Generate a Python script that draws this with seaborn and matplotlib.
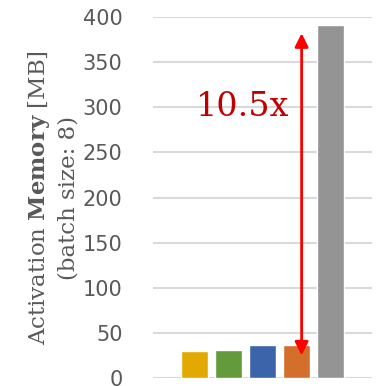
import pandas as pd
import matplotlib.pyplot as plt
import seaborn as sns

# Data
methods = ['m1', 'm2', 'm3', 'm4', 'baseline']
memory_mb = [30, 31, 36.5, 36.5, 391]
colors = ['#E2AA00', '#629A3C', '#3C64AA', '#D46F2B', '#949494']
yticks = [0, 50, 100, 150, 200, 250, 300, 350, 400]

df = pd.DataFrame({'method': methods, 'memory': memory_mb})

sns.set_theme(style='white')
plt.rcParams['mathtext.fontset'] = 'custom'
plt.rcParams['mathtext.rm'] = 'DejaVu Serif'
plt.rcParams['mathtext.bf'] = 'DejaVu Serif:bold'

fig = plt.figure(figsize=(3.83, 3.86), dpi=100)
ax = fig.add_axes([153 / 383, 1 - 378 / 386, 219 / 383, 361 / 386])

sns.barplot(data=df, x='method', y='memory', hue='method', palette=colors,
            width=0.8, legend=False, ax=ax, saturation=1)

ax.set_ylim(0, 400)
ax.set_xlim(-1.22, 5.22)
ax.set_yticks(yticks)
ax.yaxis.grid(True, color='#D9D9D9', linewidth=1.5)
ax.set_axisbelow(True)
for s in ax.spines.values():
    s.set_visible(False)
ax.set_xticks([])
ax.set_xlabel('')
ax.tick_params(axis='y', length=0, pad=22, labelsize=15, labelcolor='#595959')
for lab in ax.get_yticklabels():
    lab.set_family('DejaVu Sans')

ax.set_ylabel('Activation $\\mathbf{Memory}$ [MB]\n(batch size: 8)',
              family='DejaVu Serif', fontsize=16.5, color='#595959',
              linespacing=1.35, labelpad=2)

# ratio arrow between the 4th bar and the baseline
ax.annotate('', xy=(3.15, 25), xytext=(3.15, 382),
            arrowprops=dict(arrowstyle='<|-|>', color='#FF0000', lw=2,
                            mutation_scale=20, shrinkA=0, shrinkB=0))
ax.text(1.43, 300, '10.5x', color='#C00000', fontsize=24,
        family='DejaVu Serif', ha='center', va='center')

plt.savefig('out.png', dpi=100)
